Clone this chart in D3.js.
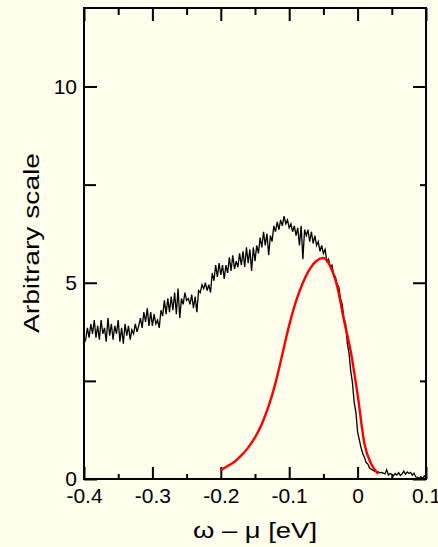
<!DOCTYPE html>
<html>
<head>
<meta charset="utf-8">
<script src="https://cdn.jsdelivr.net/npm/d3@7"></script>
<style>
  html, body { margin: 0; padding: 0; background: #fffdeb; }
  svg { display: block; }
  .axis text { font-family: "Liberation Sans", Arial, sans-serif; font-size: 21px; fill: #000; }
</style>
</head>
<body>
<div id="chart"><svg></svg></div>
<script>
// energy grid of the measured spectrum (eV), 2.5 meV spacing
let energies = d3.range(0, 201).map(i => -0.4 + i * 0.0025);

let measured = [
  3.45, 3.55, 3.85, 3.60, 3.95, 3.70, 4.05, 3.60, 3.90, 3.55,
  4.05, 3.70, 3.85, 3.50, 4.10, 3.65, 3.95, 3.55, 3.90, 3.70,
  4.05, 3.50, 3.85, 3.45, 3.95, 3.65, 3.90, 3.55, 3.80, 3.70,
  3.95, 3.75, 3.90, 4.10, 3.85, 4.25, 4.00, 4.35, 3.90, 4.25,
  3.90, 4.20, 3.95, 4.05, 3.85, 4.30, 4.15, 4.55, 4.20, 4.60,
  4.25, 4.65, 4.30, 4.75, 4.20, 4.85, 4.10, 4.60, 4.45, 4.75,
  4.55, 4.60, 4.45, 4.70, 4.35, 4.65, 4.25, 4.80, 4.75, 4.95,
  4.85, 5.00, 4.80, 4.95, 4.75, 5.25, 5.05, 5.45, 5.15, 5.50,
  5.20, 5.45, 5.10, 5.45, 5.25, 5.65, 5.30, 5.70, 5.35, 5.55,
  5.40, 5.75, 5.45, 5.80, 5.40, 5.90, 5.50, 5.85, 5.30, 5.90,
  5.55, 5.95, 5.75, 6.15, 5.90, 6.30, 5.95, 6.25, 5.70, 6.20,
  6.05, 6.45, 6.30, 6.55, 6.35, 6.60, 6.45, 6.70, 6.50, 6.60,
  6.40, 6.50, 6.30, 6.45, 6.20, 6.40, 5.95, 6.45, 5.60, 6.35,
  6.20, 6.35, 6.05, 6.30, 6.00, 6.20, 5.95, 6.05, 5.80, 5.95,
  5.75, 5.85, 5.55, 5.60, 5.40, 5.45, 5.20, 5.15, 4.95, 4.90,
  4.60, 4.45, 4.10, 3.95, 3.45, 3.20, 2.75, 2.45, 1.95, 1.70,
  1.20, 1.00, 0.80, 0.65, 0.55, 0.42, 0.38, 0.28, 0.25, 0.22,
  0.20, 0.19, 0.18, 0.16, 0.17, 0.15, 0.13, 0.24, 0.10, 0.14,
  0.12, 0.08, 0.14, 0.10, 0.16, 0.09, 0.13, 0.20, 0.12, 0.18,
  0.14, 0.17, 0.10, 0.15, 0.05, 0.04, 0.02, 0.06, 0.01, 0.08,
  0.02
];

// model curve (red)
let modelEnergies = [-0.20, -0.19, -0.18, -0.17, -0.16, -0.15, -0.14, -0.13, -0.12, -0.11,
                     -0.10, -0.09, -0.08, -0.07, -0.06, -0.05, -0.04, -0.03, -0.02, -0.01,
                      0.00, 0.01, 0.02, 0.03];
let model = [0.23, 0.33, 0.44, 0.60, 0.80, 1.06, 1.40, 1.86, 2.45, 3.18,
             3.92, 4.53, 5.00, 5.35, 5.56, 5.63, 5.42, 4.92, 4.05, 3.25,
             2.15, 0.90, 0.38, 0.13];

let xMajor = [-0.4, -0.3, -0.2, -0.1, 0, 0.1];
let xMinor = [-0.35, -0.25, -0.15, -0.05, 0.05];
let yMajor = [0, 5, 10];
let yMinor = [2.5, 7.5];

let svg = d3.select("#chart svg").attr("width", 438).attr("height", 547);

let margin = {top: 8, right: 12, bottom: 68, left: 84};
let width = 438 - margin.left - margin.right;
let height = 547 - margin.top - margin.bottom;

let g = svg.append("g").attr("transform", "translate(" + margin.left + "," + margin.top + ")");

let x = d3.scaleLinear().domain([-0.4, 0.1]).range([0, width]);
let y = d3.scaleLinear().domain([0, 12]).range([height, 0]);

g.append("clipPath").attr("id", "clip")
  .append("rect").attr("width", width).attr("height", height);

// plain hyphen for negatives, as in the original
let fmt = d => d === 0 ? "0" : (d < 0 ? "-" : "") + Math.abs(d).toFixed(1);

// bottom
g.append("g").attr("class", "axis").attr("transform", "translate(0," + height + ")")
  .call(d3.axisBottom(x).tickValues(xMajor).tickSize(-12).tickPadding(9).tickFormat(fmt));
g.append("g").attr("class", "axis").attr("transform", "translate(0," + height + ")")
  .call(d3.axisBottom(x).tickValues(xMinor).tickSize(-5).tickFormat(""));
// top
g.append("g").attr("class", "axis")
  .call(d3.axisTop(x).tickValues(xMajor).tickSize(-13).tickFormat(""));
g.append("g").attr("class", "axis")
  .call(d3.axisTop(x).tickValues(xMinor).tickSize(-7).tickFormat(""));
// left
g.append("g").attr("class", "axis")
  .call(d3.axisLeft(y).tickValues(yMajor).tickSize(-13).tickPadding(7).tickFormat(d3.format("d")));
g.append("g").attr("class", "axis")
  .call(d3.axisLeft(y).tickValues(yMinor).tickSize(-12).tickFormat(""));
// right
g.append("g").attr("class", "axis").attr("transform", "translate(" + width + ",0)")
  .call(d3.axisRight(y).tickValues(yMajor).tickSize(-13).tickFormat(""));
g.append("g").attr("class", "axis").attr("transform", "translate(" + width + ",0)")
  .call(d3.axisRight(y).tickValues(yMinor).tickSize(-6).tickFormat(""));

g.selectAll(".axis .domain").remove();
g.selectAll(".axis line").attr("stroke", "#000").attr("stroke-width", 2);

// frame
g.append("rect")
  .attr("width", width)
  .attr("height", height)
  .attr("fill", "none")
  .attr("stroke", "#000")
  .attr("stroke-width", 2);

let plot = g.append("g").attr("clip-path", "url(#clip)");

plot.append("path")
  .datum(measured)
  .attr("fill", "none")
  .attr("stroke", "#000")
  .attr("stroke-width", 1.3)
  .attr("d", d3.line().x((d, i) => x(energies[i])).y(d => y(d)));

plot.append("path")
  .datum(model)
  .attr("fill", "none")
  .attr("stroke", "#ff0000")
  .attr("stroke-width", 2.4)
  .attr("d", d3.line().curve(d3.curveMonotoneX).x((d, i) => x(modelEnergies[i])).y(d => y(d)));

// axis titles
svg.append("text")
  .attr("transform", "translate(39,243) rotate(-90)")
  .attr("text-anchor", "middle")
  .attr("font-family", "Liberation Sans, Arial, sans-serif")
  .attr("font-size", 22)
  .attr("textLength", 180)
  .attr("lengthAdjust", "spacingAndGlyphs")
  .text("Arbitrary scale");

svg.append("text")
  .attr("x", 255)
  .attr("y", 538)
  .attr("text-anchor", "middle")
  .attr("font-family", "Liberation Sans, Arial, sans-serif")
  .attr("font-size", 22)
  .attr("textLength", 124)
  .attr("lengthAdjust", "spacingAndGlyphs")
  .text("ω – μ [eV]");
</script>
</body>
</html>
